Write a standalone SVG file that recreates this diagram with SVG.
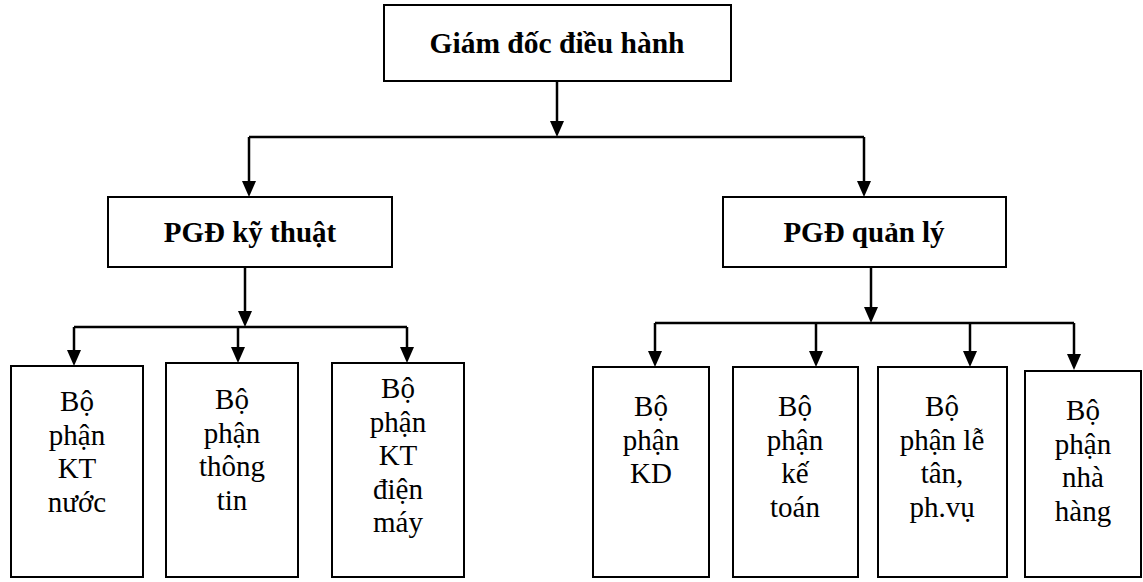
<svg xmlns="http://www.w3.org/2000/svg" width="1143" height="582" viewBox="0 0 1143 582">
<defs>
<style>
.box{fill:#fff;stroke:#000;stroke-width:2}
.ln{fill:none;stroke:#000;stroke-width:2.5}
.ah{fill:#000}
.b{font-family:"Liberation Serif","Times New Roman",serif;font-weight:bold;font-size:29px;text-anchor:middle;fill:#000}
.r{font-family:"Liberation Serif","Times New Roman",serif;font-size:29px;text-anchor:middle;fill:#000}
</style>
</defs>
<rect width="1143" height="582" fill="#fff"/>
<g id="connectors">
<path class="ln" d="M557,81 V122"/>
<path class="ah" d="M550,121 L564,121 L557,137 Z"/>
<path class="ln" d="M249,137 H864"/>
<path class="ln" d="M249,137 V182"/>
<path class="ah" d="M242,181 L256,181 L249,197 Z"/>
<path class="ln" d="M864,137 V182"/>
<path class="ah" d="M857,181 L871,181 L864,197 Z"/>
<path class="ln" d="M245,267 V312"/>
<path class="ah" d="M238,311 L252,311 L245,327 Z"/>
<path class="ln" d="M74,327 H407"/>
<path class="ln" d="M74,327 V351"/>
<path class="ah" d="M67,350 L81,350 L74,366 Z"/>
<path class="ln" d="M238,327 V348"/>
<path class="ah" d="M231,347 L245,347 L238,363 Z"/>
<path class="ln" d="M407,327 V348"/>
<path class="ah" d="M400,347 L414,347 L407,363 Z"/>
<path class="ln" d="M871,267 V308"/>
<path class="ah" d="M864,307 L878,307 L871,323 Z"/>
<path class="ln" d="M655,323 H1074"/>
<path class="ln" d="M655,323 V352"/>
<path class="ah" d="M648,351 L662,351 L655,367 Z"/>
<path class="ln" d="M816,323 V352"/>
<path class="ah" d="M809,351 L823,351 L816,367 Z"/>
<path class="ln" d="M970,323 V352"/>
<path class="ah" d="M963,351 L977,351 L970,367 Z"/>
<path class="ln" d="M1074,323 V355"/>
<path class="ah" d="M1067,354 L1081,354 L1074,370 Z"/>
</g>
<g id="n-gd"><rect class="box" x="384" y="5" width="347" height="76"/><text class="b" x="557" y="53" style="font-size:29.5px">Giám đốc điều hành</text></g>
<g id="n-pgd-kt"><rect class="box" x="108" y="197" width="284" height="70"/><text class="b" x="250" y="242">PGĐ kỹ thuật</text></g>
<g id="n-pgd-ql"><rect class="box" x="723" y="197" width="283" height="70"/><text class="b" x="864" y="242">PGĐ quản lý</text></g>
<g id="n-kt-nuoc"><rect class="box" x="11" y="366" width="132" height="211"/><text class="r"><tspan x="77" y="411">Bộ</tspan><tspan x="77" y="444.5">phận</tspan><tspan x="77" y="478">KT</tspan><tspan x="77" y="511.5">nước</tspan></text></g>
<g id="n-thong-tin"><rect class="box" x="166" y="363" width="132" height="214"/><text class="r"><tspan x="232" y="409">Bộ</tspan><tspan x="232" y="442.5">phận</tspan><tspan x="232" y="476">thông</tspan><tspan x="232" y="509.5">tin</tspan></text></g>
<g id="n-kt-dien-may"><rect class="box" x="332" y="363" width="132" height="214"/><text class="r"><tspan x="398" y="398">Bộ</tspan><tspan x="398" y="431.5">phận</tspan><tspan x="398" y="465">KT</tspan><tspan x="398" y="498.5">điện</tspan><tspan x="398" y="532">máy</tspan></text></g>
<g id="n-kd"><rect class="box" x="593" y="367" width="116" height="210"/><text class="r"><tspan x="651" y="416">Bộ</tspan><tspan x="651" y="449.5">phận</tspan><tspan x="651" y="483">KD</tspan></text></g>
<g id="n-ke-toan"><rect class="box" x="733" y="367" width="125" height="210"/><text class="r"><tspan x="795" y="416">Bộ</tspan><tspan x="795" y="449.5">phận</tspan><tspan x="795" y="483">kế</tspan><tspan x="795" y="516.5">toán</tspan></text></g>
<g id="n-le-tan"><rect class="box" x="878" y="367" width="129" height="210"/><text class="r"><tspan x="942" y="416">Bộ</tspan><tspan x="942" y="449.5">phận lễ</tspan><tspan x="942" y="483">tân,</tspan><tspan x="942" y="516.5">ph.vụ</tspan></text></g>
<g id="n-nha-hang"><rect class="box" x="1025" y="371" width="116" height="206"/><text class="r"><tspan x="1083" y="420">Bộ</tspan><tspan x="1083" y="453.5">phận</tspan><tspan x="1083" y="487">nhà</tspan><tspan x="1083" y="520.5">hàng</tspan></text></g>
</svg>
